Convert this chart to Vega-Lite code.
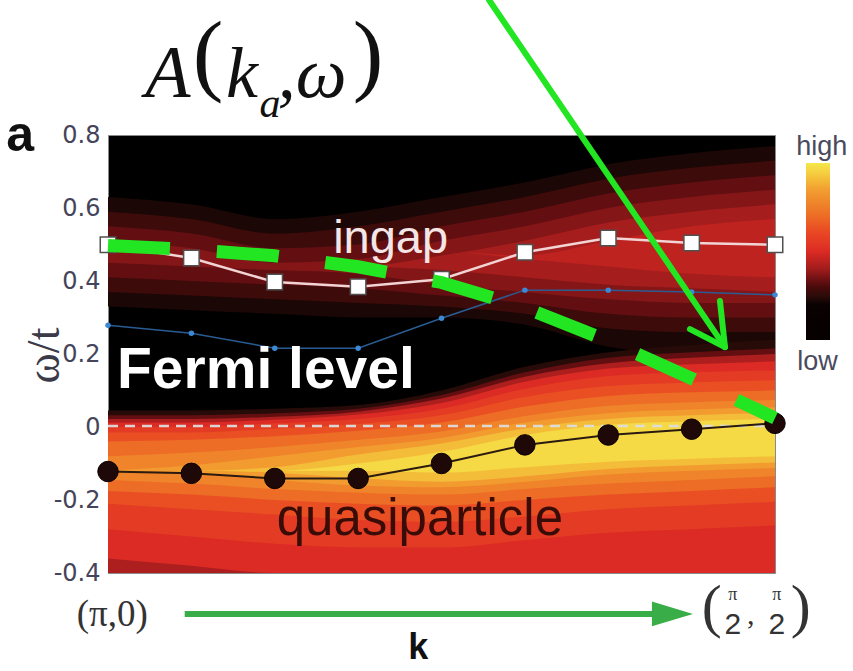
{
  "$schema": "https://vega.github.io/schema/vega-lite/v6.json",
  "width": 667,
  "height": 438,
  "autosize": {"type": "none"},
  "padding": {"left": 108, "top": 135, "right": 78, "bottom": 98},
  "background": "#ffffff",
  "config": {
    "view": {"fill": "#000000", "stroke": "#8a8a8a", "strokeWidth": 1},
    "font": "Liberation Sans"
  },
  "data": {"values": [{}]},
  "datasets": {
    "bands": [
      {"b":"b00","v":0.22,"k":0,"lo":0.33,"hi":0.63},{"b":"b00","v":0.22,"k":1,"lo":0.32,"hi":0.61},{"b":"b00","v":0.22,"k":2,"lo":0.31,"hi":0.57},{"b":"b00","v":0.22,"k":3,"lo":0.30,"hi":0.59},{"b":"b00","v":0.22,"k":4,"lo":0.30,"hi":0.63},{"b":"b00","v":0.22,"k":5,"lo":0.28,"hi":0.67},{"b":"b00","v":0.22,"k":6,"lo":0.22,"hi":0.72},{"b":"b00","v":0.22,"k":7,"lo":0.20,"hi":0.75},{"b":"b00","v":0.22,"k":8,"lo":0.20,"hi":0.77},
      {"b":"b01","v":0.28,"k":0,"lo":0.37,"hi":0.59},{"b":"b01","v":0.28,"k":1,"lo":0.36,"hi":0.57},{"b":"b01","v":0.28,"k":2,"lo":0.35,"hi":0.53},{"b":"b01","v":0.28,"k":3,"lo":0.34,"hi":0.55},{"b":"b01","v":0.28,"k":4,"lo":0.33,"hi":0.59},{"b":"b01","v":0.28,"k":5,"lo":0.31,"hi":0.63},{"b":"b01","v":0.28,"k":6,"lo":0.27,"hi":0.68},{"b":"b01","v":0.28,"k":7,"lo":0.26,"hi":0.71},{"b":"b01","v":0.28,"k":8,"lo":0.26,"hi":0.73},
      {"b":"b02","v":0.33,"k":0,"lo":0.41,"hi":0.55},{"b":"b02","v":0.33,"k":1,"lo":0.40,"hi":0.53},{"b":"b02","v":0.33,"k":2,"lo":0.39,"hi":0.49},{"b":"b02","v":0.33,"k":3,"lo":0.38,"hi":0.50},{"b":"b02","v":0.33,"k":4,"lo":0.36,"hi":0.55},{"b":"b02","v":0.33,"k":5,"lo":0.34,"hi":0.59},{"b":"b02","v":0.33,"k":6,"lo":0.31,"hi":0.64},{"b":"b02","v":0.33,"k":7,"lo":0.30,"hi":0.67},{"b":"b02","v":0.33,"k":8,"lo":0.30,"hi":0.69},
      {"b":"b03","v":0.37,"k":0,"lo":0.45,"hi":0.51},{"b":"b03","v":0.37,"k":1,"lo":0.44,"hi":0.49},{"b":"b03","v":0.37,"k":2,"lo":0.43,"hi":0.45},{"b":"b03","v":0.37,"k":3,"lo":0.42,"hi":0.46},{"b":"b03","v":0.37,"k":4,"lo":0.39,"hi":0.51},{"b":"b03","v":0.37,"k":5,"lo":0.37,"hi":0.55},{"b":"b03","v":0.37,"k":6,"lo":0.35,"hi":0.60},{"b":"b03","v":0.37,"k":7,"lo":0.34,"hi":0.63},{"b":"b03","v":0.37,"k":8,"lo":0.34,"hi":0.65},
      {"b":"b04","v":0.41,"k":0,"lo":0.48,"hi":0.48},{"b":"b04","v":0.41,"k":1,"lo":0.47,"hi":0.47},{"b":"b04","v":0.41,"k":2,"lo":0.44,"hi":0.44},{"b":"b04","v":0.41,"k":3,"lo":0.44,"hi":0.44},{"b":"b04","v":0.41,"k":4,"lo":0.43,"hi":0.47},{"b":"b04","v":0.41,"k":5,"lo":0.41,"hi":0.51},{"b":"b04","v":0.41,"k":6,"lo":0.39,"hi":0.56},{"b":"b04","v":0.41,"k":7,"lo":0.38,"hi":0.59},{"b":"b04","v":0.41,"k":8,"lo":0.37,"hi":0.61},
      {"b":"b05","v":0.45,"k":0,"lo":0.48,"hi":0.48},{"b":"b05","v":0.45,"k":1,"lo":0.48,"hi":0.48},{"b":"b05","v":0.45,"k":2,"lo":0.48,"hi":0.48},{"b":"b05","v":0.45,"k":3,"lo":0.48,"hi":0.48},{"b":"b05","v":0.45,"k":4,"lo":0.48,"hi":0.48},{"b":"b05","v":0.45,"k":5,"lo":0.46,"hi":0.47},{"b":"b05","v":0.45,"k":6,"lo":0.44,"hi":0.51},{"b":"b05","v":0.45,"k":7,"lo":0.42,"hi":0.55},{"b":"b05","v":0.45,"k":8,"lo":0.41,"hi":0.57},
      {"b":"b06","v":0.24,"k":0,"lo":-0.4,"hi":0.045},{"b":"b06","v":0.24,"k":1,"lo":-0.4,"hi":0.045},{"b":"b06","v":0.24,"k":2,"lo":-0.4,"hi":0.05},{"b":"b06","v":0.24,"k":3,"lo":-0.4,"hi":0.06},{"b":"b06","v":0.24,"k":4,"lo":-0.4,"hi":0.10},{"b":"b06","v":0.24,"k":5,"lo":-0.4,"hi":0.165},{"b":"b06","v":0.24,"k":6,"lo":-0.4,"hi":0.205},{"b":"b06","v":0.24,"k":7,"lo":-0.4,"hi":0.225},{"b":"b06","v":0.24,"k":8,"lo":-0.4,"hi":0.24},
      {"b":"b07","v":0.33,"k":0,"lo":-0.4,"hi":0.032},{"b":"b07","v":0.33,"k":1,"lo":-0.4,"hi":0.032},{"b":"b07","v":0.33,"k":2,"lo":-0.4,"hi":0.038},{"b":"b07","v":0.33,"k":3,"lo":-0.4,"hi":0.05},{"b":"b07","v":0.33,"k":4,"lo":-0.4,"hi":0.088},{"b":"b07","v":0.33,"k":5,"lo":-0.4,"hi":0.15},{"b":"b07","v":0.33,"k":6,"lo":-0.4,"hi":0.19},{"b":"b07","v":0.33,"k":7,"lo":-0.4,"hi":0.205},{"b":"b07","v":0.33,"k":8,"lo":-0.4,"hi":0.215},
      {"b":"b08","v":0.42,"k":0,"lo":-0.4,"hi":0.022},{"b":"b08","v":0.42,"k":1,"lo":-0.4,"hi":0.022},{"b":"b08","v":0.42,"k":2,"lo":-0.4,"hi":0.028},{"b":"b08","v":0.42,"k":3,"lo":-0.4,"hi":0.042},{"b":"b08","v":0.42,"k":4,"lo":-0.4,"hi":0.078},{"b":"b08","v":0.42,"k":5,"lo":-0.4,"hi":0.138},{"b":"b08","v":0.42,"k":6,"lo":-0.4,"hi":0.175},{"b":"b08","v":0.42,"k":7,"lo":-0.4,"hi":0.19},{"b":"b08","v":0.42,"k":8,"lo":-0.4,"hi":0.20},
      {"b":"b09","v":0.5,"k":0,"lo":-0.36,"hi":0.012},{"b":"b09","v":0.5,"k":1,"lo":-0.38,"hi":0.012},{"b":"b09","v":0.5,"k":2,"lo":-0.4,"hi":0.02},{"b":"b09","v":0.5,"k":3,"lo":-0.4,"hi":0.034},{"b":"b09","v":0.5,"k":4,"lo":-0.4,"hi":0.066},{"b":"b09","v":0.5,"k":5,"lo":-0.4,"hi":0.124},{"b":"b09","v":0.5,"k":6,"lo":-0.4,"hi":0.16},{"b":"b09","v":0.5,"k":7,"lo":-0.4,"hi":0.172},{"b":"b09","v":0.5,"k":8,"lo":-0.4,"hi":0.18},
      {"b":"b10","v":0.56,"k":0,"lo":-0.28,"hi":0.0},{"b":"b10","v":0.56,"k":1,"lo":-0.30,"hi":0.0},{"b":"b10","v":0.56,"k":2,"lo":-0.32,"hi":0.01},{"b":"b10","v":0.56,"k":3,"lo":-0.33,"hi":0.022},{"b":"b10","v":0.56,"k":4,"lo":-0.33,"hi":0.05},{"b":"b10","v":0.56,"k":5,"lo":-0.31,"hi":0.105},{"b":"b10","v":0.56,"k":6,"lo":-0.29,"hi":0.14},{"b":"b10","v":0.56,"k":7,"lo":-0.28,"hi":0.15},{"b":"b10","v":0.56,"k":8,"lo":-0.27,"hi":0.155},
      {"b":"b11","v":0.63,"k":0,"lo":-0.21,"hi":-0.015},{"b":"b11","v":0.63,"k":1,"lo":-0.225,"hi":-0.015},{"b":"b11","v":0.63,"k":2,"lo":-0.24,"hi":-0.005},{"b":"b11","v":0.63,"k":3,"lo":-0.255,"hi":0.008},{"b":"b11","v":0.63,"k":4,"lo":-0.26,"hi":0.032},{"b":"b11","v":0.63,"k":5,"lo":-0.245,"hi":0.082},{"b":"b11","v":0.63,"k":6,"lo":-0.225,"hi":0.112},{"b":"b11","v":0.63,"k":7,"lo":-0.215,"hi":0.122},{"b":"b11","v":0.63,"k":8,"lo":-0.205,"hi":0.128},
      {"b":"b12","v":0.70,"k":0,"lo":-0.175,"hi":-0.04},{"b":"b12","v":0.70,"k":1,"lo":-0.185,"hi":-0.035},{"b":"b12","v":0.70,"k":2,"lo":-0.2,"hi":-0.025},{"b":"b12","v":0.70,"k":3,"lo":-0.21,"hi":-0.01},{"b":"b12","v":0.70,"k":4,"lo":-0.215,"hi":0.012},{"b":"b12","v":0.70,"k":5,"lo":-0.2,"hi":0.056},{"b":"b12","v":0.70,"k":6,"lo":-0.185,"hi":0.085},{"b":"b12","v":0.70,"k":7,"lo":-0.175,"hi":0.095},{"b":"b12","v":0.70,"k":8,"lo":-0.165,"hi":0.10},
      {"b":"b13","v":0.77,"k":0,"lo":-0.145,"hi":-0.08},{"b":"b13","v":0.77,"k":1,"lo":-0.155,"hi":-0.07},{"b":"b13","v":0.77,"k":2,"lo":-0.17,"hi":-0.055},{"b":"b13","v":0.77,"k":3,"lo":-0.18,"hi":-0.035},{"b":"b13","v":0.77,"k":4,"lo":-0.185,"hi":-0.012},{"b":"b13","v":0.77,"k":5,"lo":-0.17,"hi":0.03},{"b":"b13","v":0.77,"k":6,"lo":-0.155,"hi":0.058},{"b":"b13","v":0.77,"k":7,"lo":-0.145,"hi":0.068},{"b":"b13","v":0.77,"k":8,"lo":-0.135,"hi":0.074},
      {"b":"b14","v":0.84,"k":0,"lo":-0.12,"hi":-0.12},{"b":"b14","v":0.84,"k":1,"lo":-0.125,"hi":-0.105},{"b":"b14","v":0.84,"k":2,"lo":-0.145,"hi":-0.08},{"b":"b14","v":0.84,"k":3,"lo":-0.16,"hi":-0.055},{"b":"b14","v":0.84,"k":4,"lo":-0.165,"hi":-0.03},{"b":"b14","v":0.84,"k":5,"lo":-0.15,"hi":0.012},{"b":"b14","v":0.84,"k":6,"lo":-0.13,"hi":0.038},{"b":"b14","v":0.84,"k":7,"lo":-0.12,"hi":0.048},{"b":"b14","v":0.84,"k":8,"lo":-0.112,"hi":0.054},
      {"b":"b15","v":0.91,"k":0,"lo":-0.12,"hi":-0.12},{"b":"b15","v":0.91,"k":1,"lo":-0.12,"hi":-0.12},{"b":"b15","v":0.91,"k":2,"lo":-0.125,"hi":-0.11},{"b":"b15","v":0.91,"k":3,"lo":-0.14,"hi":-0.075},{"b":"b15","v":0.91,"k":4,"lo":-0.15,"hi":-0.045},{"b":"b15","v":0.91,"k":5,"lo":-0.135,"hi":-0.004},{"b":"b15","v":0.91,"k":6,"lo":-0.115,"hi":0.022},{"b":"b15","v":0.91,"k":7,"lo":-0.105,"hi":0.032},{"b":"b15","v":0.91,"k":8,"lo":-0.097,"hi":0.038},
      {"b":"b16","v":0.97,"k":0,"lo":-0.12,"hi":-0.12},{"b":"b16","v":0.97,"k":1,"lo":-0.12,"hi":-0.12},{"b":"b16","v":0.97,"k":2,"lo":-0.12,"hi":-0.12},{"b":"b16","v":0.97,"k":3,"lo":-0.12,"hi":-0.10},{"b":"b16","v":0.97,"k":4,"lo":-0.125,"hi":-0.068},{"b":"b16","v":0.97,"k":5,"lo":-0.11,"hi":-0.022},{"b":"b16","v":0.97,"k":6,"lo":-0.095,"hi":0.006},{"b":"b16","v":0.97,"k":7,"lo":-0.087,"hi":0.016},{"b":"b16","v":0.97,"k":8,"lo":-0.08,"hi":0.022}
    ],
    "pts": [
      {"k":0,"ingap":0.499,"blue":0.279,"qp":-0.122,"green":0.497},
      {"k":1,"ingap":0.463,"blue":0.257,"qp":-0.127,"green":0.486},
      {"k":2,"ingap":0.397,"blue":0.216,"qp":-0.141,"green":0.469},
      {"k":3,"ingap":0.384,"blue":0.216,"qp":-0.141,"green":0.439},
      {"k":4,"ingap":0.405,"blue":0.298,"qp":-0.100,"green":0.396},
      {"k":5,"ingap":0.479,"blue":0.375,"qp":-0.049,"green":0.327},
      {"k":6,"ingap":0.518,"blue":0.375,"qp":-0.022,"green":0.236},
      {"k":7,"ingap":0.504,"blue":0.370,"qp":-0.006,"green":0.133},
      {"k":8,"ingap":0.499,"blue":0.362,"qp":0.010,"green":0.024}
    ],
    "arrow": [
      {"k0":4.57,"w0":1.17,"k1":7.40,"w1":0.219},
      {"k0":6.98,"w0":0.268,"k1":7.40,"w1":0.219},
      {"k0":7.34,"w0":0.345,"k1":7.40,"w1":0.219}
    ]
  },
  "layer": [
    {
      "data": {"name": "bands"},
      "mark": {"type": "area", "interpolate": "monotone", "clip": true},
      "encoding": {
        "x": {
          "field": "k", "type": "quantitative",
          "scale": {"domain": [0, 8], "nice": false, "zero": false},
          "axis": {"title": null, "labels": false, "domain": false, "grid": false, "values": [1,2,3,4,5,6,7], "tickSize": -8, "tickColor": "#8a8a8a", "tickWidth": 1}
        },
        "y": {
          "field": "hi", "type": "quantitative",
          "scale": {"domain": [-0.4, 0.8], "nice": false, "zero": false},
          "axis": {
            "title": "ω/t", "titleFont": "Liberation Serif", "titleFontSize": 46, "titleFontWeight": "normal", "titleColor": "#3a3a48",
            "titleX": -64, "titleY": 220, "titleAngle": -90, "titleAlign": "center", "titleBaseline": "middle",
            "values": [-0.4,-0.2,0,0.2,0.4,0.6,0.8], "grid": false, "domain": false, "ticks": false,
            "labelFont": "DejaVu Sans", "labelFontSize": 24, "labelColor": "#44445a", "labelPadding": 8, "labelFlush": false,
            "labelExpr": "datum.value < 0 ? '-' + format(-datum.value, '.1f') : (datum.value == 0 ? '0' : format(datum.value, '.1f'))"
          }
        },
        "y2": {"field": "lo"},
        "color": {
          "field": "v", "type": "quantitative",
          "scale": {
            "domain": [0, 0.2, 0.3, 0.4, 0.5, 0.62, 0.74, 0.86, 0.93, 1],
            "range": ["#000000", "#0a0202", "#4a0a0a", "#a01c1c", "#dc2a24", "#ea4a24", "#ee7a2a", "#f2a232", "#f4c83e", "#f4e84c"]
          },
          "legend": {
            "orient": "none", "legendX": 698, "legendY": 28, "direction": "vertical",
            "gradientLength": 177, "gradientThickness": 24, "title": null,
            "labelExpr": "''", "labelOpacity": 0, "gradientStrokeWidth": 0
          }
        },
        "detail": {"field": "b"}
      }
    },
    {
      "mark": {"type": "rule", "color": "#dcdcdc", "strokeWidth": 2.5, "strokeDash": [10, 7], "opacity": 0.95},
      "encoding": {"x": {"datum": 0}, "x2": {"datum": 8}, "y": {"datum": 0.003}}
    },
    {
      "data": {"name": "pts"},
      "mark": {"type": "line", "color": "#2a5c92", "strokeWidth": 1.5},
      "encoding": {"x": {"field": "k", "type": "quantitative"}, "y": {"field": "blue", "type": "quantitative"}}
    },
    {
      "data": {"name": "pts"},
      "mark": {"type": "point", "filled": true, "color": "#3d88d4", "size": 30, "opacity": 1},
      "encoding": {"x": {"field": "k", "type": "quantitative"}, "y": {"field": "blue", "type": "quantitative"}}
    },
    {
      "data": {"name": "pts"},
      "mark": {"type": "line", "color": "#f2d4d4", "strokeWidth": 2.5},
      "encoding": {"x": {"field": "k", "type": "quantitative"}, "y": {"field": "ingap", "type": "quantitative"}}
    },
    {
      "data": {"name": "pts"},
      "mark": {"type": "point", "shape": "square", "filled": true, "fill": "#ffffff", "stroke": "#505050", "strokeWidth": 1.5, "size": 240, "opacity": 1},
      "encoding": {"x": {"field": "k", "type": "quantitative"}, "y": {"field": "ingap", "type": "quantitative"}}
    },
    {
      "data": {"name": "pts"},
      "mark": {"type": "line", "color": "#2a1a10", "strokeWidth": 2},
      "encoding": {"x": {"field": "k", "type": "quantitative"}, "y": {"field": "qp", "type": "quantitative"}}
    },
    {
      "data": {"name": "pts"},
      "mark": {"type": "point", "shape": "circle", "filled": true, "fill": "#1e0808", "stroke": "#0a0000", "strokeWidth": 1, "size": 420, "opacity": 1},
      "encoding": {"x": {"field": "k", "type": "quantitative"}, "y": {"field": "qp", "type": "quantitative"}}
    },
    {
      "mark": {"type": "text", "text": "ingap", "font": "Liberation Sans", "fontSize": 47, "color": "#f4e6e6", "align": "center", "baseline": "alphabetic"},
      "encoding": {"x": {"datum": 3.39}, "y": {"datum": 0.477}}
    },
    {
      "mark": {"type": "text", "text": "quasiparticle", "font": "Liberation Sans", "fontSize": 51, "color": "#3a0c08", "opacity": 1, "align": "center", "baseline": "alphabetic"},
      "encoding": {"x": {"datum": 3.74}, "y": {"datum": -0.296}}
    },
    {
      "data": {"name": "pts"},
      "mark": {"type": "line", "color": "#22e622", "strokeWidth": 13, "strokeDash": [62, 47], "strokeCap": "butt"},
      "encoding": {"x": {"field": "k", "type": "quantitative"}, "y": {"field": "green", "type": "quantitative"}}
    },
    {
      "mark": {"type": "text", "text": "Fermi level", "font": "Liberation Sans", "fontSize": 57, "fontWeight": "bold", "color": "#ffffff", "align": "left", "baseline": "alphabetic"},
      "encoding": {"x": {"datum": 0.108}, "y": {"datum": 0.107}}
    },
    {
      "data": {"name": "arrow"},
      "mark": {"type": "rule", "color": "#22e622", "strokeWidth": 6, "strokeCap": "round"},
      "encoding": {
        "x": {"field": "k0", "type": "quantitative"}, "y": {"field": "w0", "type": "quantitative"},
        "x2": {"field": "k1"}, "y2": {"field": "w1"}
      }
    },
    {
      "mark": {"type": "rule", "color": "#38ad48", "strokeWidth": 6},
      "encoding": {"x": {"datum": 0.92}, "x2": {"datum": 6.6}, "y": {"datum": -0.512}}
    },
    {
      "mark": {"type": "point", "shape": "M-1,-0.6L1,0L-1,0.6Z", "filled": true, "color": "#38ad48", "size": 1681, "opacity": 1},
      "encoding": {"x": {"datum": 6.77}, "y": {"datum": -0.512}}
    },
    {
      "mark": {"type": "text", "text": "a", "font": "Liberation Sans", "fontSize": 50, "fontWeight": "bold", "color": "#111111", "align": "center", "baseline": "alphabetic"},
      "encoding": {"x": {"datum": -1.055}, "y": {"datum": 0.756}}
    },
    {
      "mark": {"type": "text", "text": "k", "font": "Liberation Sans", "fontSize": 36, "fontWeight": "bold", "color": "#111111", "align": "center", "baseline": "alphabetic"},
      "encoding": {"x": {"datum": 3.72}, "y": {"datum": -0.636}}
    },
    {
      "mark": {"type": "text", "text": "(π,0)", "font": "Liberation Serif", "fontSize": 37, "color": "#333333", "align": "center", "baseline": "alphabetic"},
      "encoding": {"x": {"datum": 0.05}, "y": {"datum": -0.545}}
    },
    {
      "mark": {"type": "text", "text": "(", "font": "Liberation Serif", "fontSize": 60, "color": "#333333", "align": "center", "baseline": "alphabetic"},
      "encoding": {"x": {"datum": 7.242}, "y": {"datum": -0.545}}
    },
    {
      "mark": {"type": "text", "text": ")", "font": "Liberation Serif", "fontSize": 60, "color": "#333333", "align": "center", "baseline": "alphabetic"},
      "encoding": {"x": {"datum": 8.309}, "y": {"datum": -0.545}}
    },
    {
      "mark": {"type": "text", "text": "π", "font": "Liberation Serif", "fontSize": 18, "color": "#333333", "align": "center", "baseline": "alphabetic"},
      "encoding": {"x": {"datum": 7.494}, "y": {"datum": -0.474}}
    },
    {
      "mark": {"type": "text", "text": "π", "font": "Liberation Serif", "fontSize": 18, "color": "#333333", "align": "center", "baseline": "alphabetic"},
      "encoding": {"x": {"datum": 8.022}, "y": {"datum": -0.474}}
    },
    {
      "mark": {"type": "text", "text": "2", "font": "Liberation Sans", "fontSize": 30, "color": "#333333", "align": "center", "baseline": "alphabetic"},
      "encoding": {"x": {"datum": 7.494}, "y": {"datum": -0.567}}
    },
    {
      "mark": {"type": "text", "text": "2", "font": "Liberation Sans", "fontSize": 30, "color": "#333333", "align": "center", "baseline": "alphabetic"},
      "encoding": {"x": {"datum": 8.022}, "y": {"datum": -0.567}}
    },
    {
      "mark": {"type": "text", "text": ",", "font": "Liberation Serif", "fontSize": 30, "color": "#333333", "align": "center", "baseline": "alphabetic"},
      "encoding": {"x": {"datum": 7.71}, "y": {"datum": -0.54}}
    },
    {
      "mark": {"type": "text", "text": "high", "font": "Liberation Sans", "fontSize": 27, "color": "#4a4a5e", "align": "center", "baseline": "alphabetic"},
      "encoding": {"x": {"datum": 8.56}, "y": {"datum": 0.745}}
    },
    {
      "mark": {"type": "text", "text": "low", "font": "Liberation Sans", "fontSize": 27, "color": "#4a4a5e", "align": "center", "baseline": "alphabetic"},
      "encoding": {"x": {"datum": 8.51}, "y": {"datum": 0.156}}
    },
    {
      "mark": {"type": "text", "text": "A", "font": "Liberation Serif", "fontSize": 74, "fontStyle": "italic", "color": "#111111", "align": "center", "baseline": "alphabetic"},
      "encoding": {"x": {"datum": 0.719}, "y": {"datum": 0.904}}
    },
    {
      "mark": {"type": "text", "text": "(", "font": "Liberation Serif", "fontSize": 92, "color": "#111111", "align": "center", "baseline": "alphabetic"},
      "encoding": {"x": {"datum": 1.2}, "y": {"datum": 0.94}}
    },
    {
      "mark": {"type": "text", "text": "k", "font": "Liberation Serif", "fontSize": 72, "fontStyle": "italic", "color": "#111111", "align": "center", "baseline": "alphabetic"},
      "encoding": {"x": {"datum": 1.607}, "y": {"datum": 0.904}}
    },
    {
      "mark": {"type": "text", "text": "a", "font": "Liberation Serif", "fontSize": 42, "fontStyle": "italic", "color": "#111111", "align": "center", "baseline": "alphabetic"},
      "encoding": {"x": {"datum": 1.942}, "y": {"datum": 0.85}}
    },
    {
      "mark": {"type": "text", "text": ",ω", "font": "Liberation Serif", "fontSize": 72, "fontStyle": "italic", "color": "#111111", "align": "center", "baseline": "alphabetic"},
      "encoding": {"x": {"datum": 2.45}, "y": {"datum": 0.904}}
    },
    {
      "mark": {"type": "text", "text": ")", "font": "Liberation Serif", "fontSize": 92, "color": "#111111", "align": "center", "baseline": "alphabetic"},
      "encoding": {"x": {"datum": 3.118}, "y": {"datum": 0.94}}
    }
  ]
}
